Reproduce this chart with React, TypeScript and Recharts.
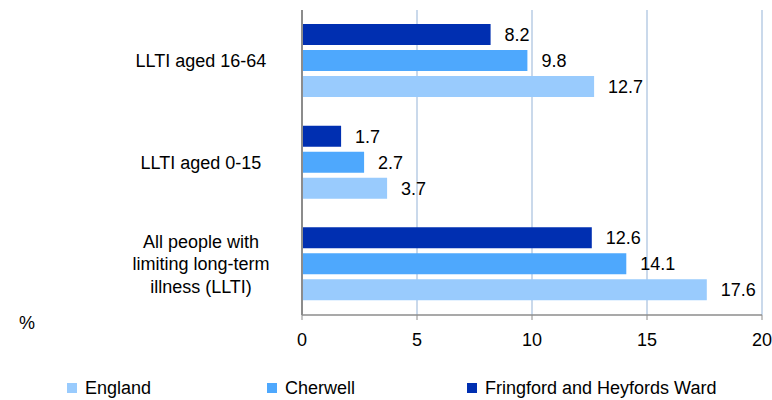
import { Bar, BarChart, XAxis, YAxis, CartesianGrid, LabelList, Legend } from "recharts";

const categories = ["LLTI aged 16-64", "LLTI aged 0-15", "All people with limiting long-term illness (LLTI)"];
const categoryLines = [["LLTI aged 16-64"], ["LLTI aged 0-15"], ["All people with", "limiting long-term", "illness (LLTI)"]];
const fringford = [8.2, 1.7, 12.6];
const cherwell = [9.8, 2.7, 14.1];
const england = [12.7, 3.7, 17.6];
const xTicks = [0, 5, 10, 15, 20];

const series = [
  { key: "fringford", name: "Fringford and Heyfords Ward", color: "#002fb1" },
  { key: "cherwell", name: "Cherwell", color: "#4ea8fd" },
  { key: "england", name: "England", color: "#99cbfd" },
];
const legendOrder = ["england", "cherwell", "fringford"];

const data = categories.map((c, i) => ({
  category: c,
  fringford: fringford[i],
  cherwell: cherwell[i],
  england: england[i],
}));

const FONT = "'Liberation Sans', Arial, sans-serif";

const CategoryTick = ({ x, y, index }: any) => {
  const lines = categoryLines[index] || [];
  const lh = 22.5;
  const start = -((lines.length - 1) * lh) / 2;
  return (
    <text x={x - 93} y={y} textAnchor="middle" fill="#000" fontSize={18} fontFamily={FONT}>
      {lines.map((l, i) => (
        <tspan key={i} x={x - 93} dy={i === 0 ? start + 6 : lh}>{l}</tspan>
      ))}
    </text>
  );
};

const LegendContent = () => (
  <div style={{ display: "flex", alignItems: "center", height: 25, paddingLeft: 67, fontFamily: FONT, fontSize: 18, lineHeight: 1, color: "#000", whiteSpace: "nowrap" }}>
    {legendOrder.map(k => {
      const s = series.find(x => x.key === k)!;
      return (
        <div key={k} style={{ width: k === "fringford" ? "auto" : 200, flexShrink: 0, display: "flex", alignItems: "center" }}>
          <span style={{ width: 10, height: 10, background: s.color, display: "inline-block", marginRight: 8 }} />
          <span>{s.name}</span>
        </div>
      );
    })}
  </div>
);

export default function App() {
  return (
    <div style={{ position: "relative", width: 772, height: 400, background: "#fff" }}>
      <style>{`body{margin:0}`}</style>
      <BarChart
        width={772}
        height={400}
        data={data}
        layout="vertical"
        margin={{ top: 10, right: 10, left: 0, bottom: 0 }}
        barSize={21}
        barGap={5}
      >
        <CartesianGrid horizontal={false} stroke="#b9cde5" strokeWidth={1.5} />
        <XAxis
          type="number"
          domain={[0, 20]}
          ticks={xTicks}
          height={60}
          axisLine={{ stroke: "#8c8c8c", strokeWidth: 1.5 }}
          tickLine={{ stroke: "#8c8c8c" }}
          tickSize={5}
          tickMargin={13}
          tick={{ fill: "#000", fontSize: 18, fontFamily: FONT }}
        />
        <YAxis
          type="category"
          dataKey="category"
          width={302}
          axisLine={{ stroke: "#8c8c8c", strokeWidth: 2 }}
          tickLine={false}
          tick={<CategoryTick />}
          interval={0}
        />
        <Legend verticalAlign="bottom" height={25} wrapperStyle={{ width: 772, left: 0 }} content={<LegendContent />} />
        {series.map(s => (
          <Bar key={s.key} dataKey={s.key} name={s.name} fill={s.color} isAnimationActive={false}>
            <LabelList dataKey={s.key} position="right" offset={14} fill="#000" fontSize={18} fontFamily={FONT} />
          </Bar>
        ))}
      </BarChart>
      <span style={{ position: "absolute", left: 19, top: 313, fontFamily: FONT, fontSize: 18 }}>%</span>
    </div>
  );
}
